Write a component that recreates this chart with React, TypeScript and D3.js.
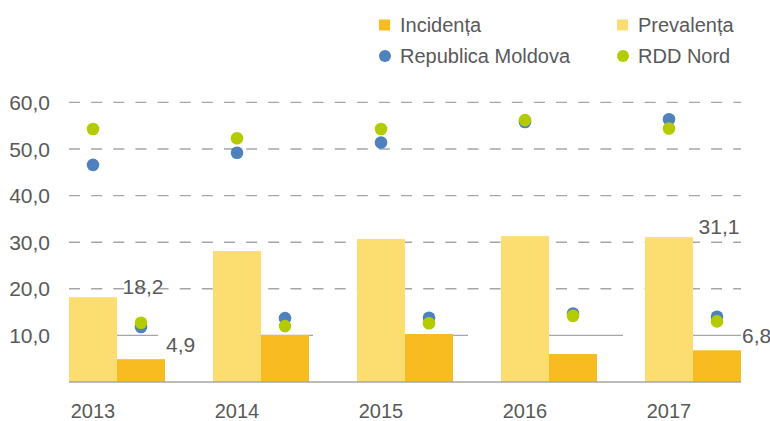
import React from "react";
import { scaleBand, scaleLinear, format } from "d3";

// values
const years = ["2013", "2014", "2015", "2016", "2017"];
const incidenta = [4.9, 10.1, 10.3, 6.0, 6.8];
const prevalenta = [18.2, 28.1, 30.7, 31.3, 31.1];
const rmPrevalenta = [46.6, 49.2, 51.4, 55.8, 56.4];
const rddPrevalenta = [54.3, 52.3, 54.3, 56.2, 54.4];
const rmIncidenta = [11.8, 13.7, 13.8, 14.7, 14.0];
const rddIncidenta = [12.7, 12.0, 12.6, 14.2, 13.0];
const yTicks = [10, 20, 30, 40, 50, 60];
const labeledYears = ["2013", "2017"];

const W = 770;
const H = 421;
const FONT = "'Liberation Sans', Arial, sans-serif";
const TEXT = "#595959";
const GRID = "#a6a6a6";
const C_INC = "#f8bc20";
const C_PREV = "#fcde70";
const C_RM = "#4f81bd";
const C_RDD = "#b3cb00";

const fmt = (v: number) => format(".1f")(v).replace(".", ",");

export default function App() {
  const x = scaleBand<string>().domain(years).range([69, 741]).paddingInner(1 / 3).paddingOuter(0);
  const sub = scaleBand<string>().domain(["prev", "inc"]).range([0, x.bandwidth()]);
  const y = scaleLinear().domain([0, 60]).range([382, 102.4]);
  const [x0, x1] = x.range();

  const prevCx = (yr: string) => (x(yr) as number) + (sub("prev") as number) + sub.bandwidth() / 2;
  const incCx = (yr: string) => (x(yr) as number) + (sub("inc") as number) + sub.bandwidth() / 2;

  const legend = [
    { name: "Incidența", color: C_INC, shape: "square", lx: 379, ly: 25 },
    { name: "Prevalența", color: C_PREV, shape: "square", lx: 617, ly: 25 },
    { name: "Republica Moldova", color: C_RM, shape: "circle", lx: 379, ly: 56 },
    { name: "RDD Nord", color: C_RDD, shape: "circle", lx: 617, ly: 56 },
  ];

  return (
    <svg width={W} height={H} style={{ position: "absolute", left: 0, top: 0 }} fontFamily={FONT}>
      <rect width={W} height={H} fill="#fff" />

      {/* gridlines */}
      {yTicks.map((t) => (
        <line
          key={"g" + t}
          x1={x0}
          x2={x1}
          y1={y(t)}
          y2={y(t)}
          stroke={GRID}
          strokeWidth={1.4}
          strokeDasharray={t === 10 ? "100 55" : "11 11.14"}
          strokeDashoffset={t === 10 ? 11 : 0}
        />
      ))}

      {/* y tick labels */}
      {yTicks.map((t) => (
        <text key={"t" + t} x={50} y={y(t)} dy="0.36em" textAnchor="end" fontSize={21} fill={TEXT}>
          {fmt(t)}
        </text>
      ))}

      {/* bars */}
      {years.map((yr, i) => (
        <g key={"b" + yr}>
          <rect
            x={(x(yr) as number) + (sub("prev") as number)}
            y={y(prevalenta[i])}
            width={sub.bandwidth()}
            height={y(0) - y(prevalenta[i])}
            fill={C_PREV}
          />
          <rect
            x={(x(yr) as number) + (sub("inc") as number)}
            y={y(incidenta[i])}
            width={sub.bandwidth()}
            height={y(0) - y(incidenta[i])}
            fill={C_INC}
          />
        </g>
      ))}

      {/* baseline */}
      <line x1={x0} x2={x1} y1={y(0)} y2={y(0)} stroke={GRID} strokeWidth={1.6} />

      {/* dots */}
      {years.map((yr, i) => (
        <g key={"d" + yr}>
          <circle cx={prevCx(yr)} cy={y(rmPrevalenta[i])} r={6.3} fill={C_RM} />
          <circle cx={prevCx(yr)} cy={y(rddPrevalenta[i])} r={6.3} fill={C_RDD} />
          <circle cx={incCx(yr)} cy={y(rmIncidenta[i])} r={6.3} fill={C_RM} />
          <circle cx={incCx(yr)} cy={y(rddIncidenta[i])} r={6.3} fill={C_RDD} />
        </g>
      ))}

      {/* data labels */}
      {years.map((yr, i) =>
        labeledYears.includes(yr) ? (
          <g key={"l" + yr} fontSize={21} fill={TEXT}>
            <text x={incCx(yr) + 2} y={y(prevalenta[i]) - 3} textAnchor="middle">
              {fmt(prevalenta[i])}
            </text>
            <text x={(x(yr) as number) + x.bandwidth() + 1} y={y(incidenta[i]) - 7} textAnchor="start">
              {fmt(incidenta[i])}
            </text>
          </g>
        ) : null
      )}

      {/* x labels */}
      {years.map((yr) => (
        <text key={"x" + yr} x={prevCx(yr)} y={418} textAnchor="middle" fontSize={20} fill={TEXT}>
          {yr}
        </text>
      ))}

      {/* legend */}
      {legend.map((l) => (
        <g key={l.name}>
          {l.shape === "square" ? (
            <rect x={l.lx} y={l.ly - 5.5} width={11} height={11} fill={l.color} />
          ) : (
            <circle cx={l.lx + 6} cy={l.ly} r={6} fill={l.color} />
          )}
          <text x={l.lx + 21} y={l.ly} dy="0.35em" fontSize={20} fill={TEXT}>
            {l.name}
          </text>
        </g>
      ))}
    </svg>
  );
}
